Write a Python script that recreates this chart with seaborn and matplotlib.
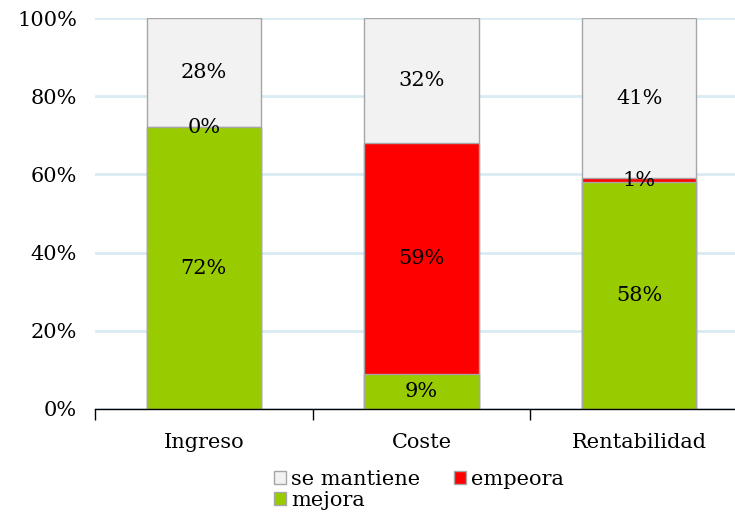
import matplotlib
matplotlib.use("Agg")
import matplotlib.pyplot as plt
import seaborn as sns
import pandas as pd
import numpy as np
from matplotlib.patches import Patch

categories = ["Ingreso", "Coste", "Rentabilidad"]
mejora = [72, 9, 58]
empeora = [0, 59, 1]
se_mantiene = [28, 32, 41]
ytick_labels = ["0%", "20%", "40%", "60%", "80%", "100%"]

c_mejora = "#99cc00"
c_empeora = "#ff0000"
c_mant = "#f2f2f2"
edge = "#a6a6a6"

sns.set_style("white")
plt.rcParams["font.family"] = ["DejaVu Serif"]
plt.rcParams["text.color"] = "black"
plt.rcParams["xtick.color"] = "black"
plt.rcParams["ytick.color"] = "black"
plt.rcParams["xtick.labelcolor"] = "black"
plt.rcParams["ytick.labelcolor"] = "black"

FS = 15

df = pd.DataFrame({"cat": categories, "mejora": mejora, "empeora": empeora, "mant": se_mantiene})
df["lvl2"] = df["mejora"] + df["empeora"]
df["lvl3"] = df["lvl2"] + df["mant"]

fig = plt.figure(figsize=(7.35, 5.13), dpi=100)
ax = fig.add_axes([95/735, 1 - 409/513, 653/735, 391/513])

w = 114 / 217.5
sns.barplot(data=df, x="cat", y="lvl3", color=c_mant, width=w, edgecolor=edge, linewidth=1, ax=ax, saturation=1, zorder=2)
sns.barplot(data=df, x="cat", y="lvl2", color=c_empeora, width=w, edgecolor=edge, linewidth=1, ax=ax, saturation=1, zorder=2)
sns.barplot(data=df, x="cat", y="mejora", color=c_mejora, width=w, edgecolor=edge, linewidth=1, ax=ax, saturation=1, zorder=2)

ax.set_xlim(-0.5, 2.5)
ax.set_ylim(0, 100)
ax.set_yticks(np.arange(0, 101, 20))
ax.set_yticklabels(ytick_labels, fontsize=FS, color="black")
ax.yaxis.grid(True, color="#d8ebf3", linewidth=2, zorder=0)
ax.set_axisbelow(True)
ax.set_xlabel("")
ax.set_ylabel("")
for s in ["left", "right", "top"]:
    ax.spines[s].set_visible(False)
ax.spines["bottom"].set_color("black")
ax.spines["bottom"].set_linewidth(1)
ax.tick_params(axis="y", length=0, pad=13)
ax.tick_params(axis="x", which="major", length=0, pad=17, labelsize=FS, labelcolor="black")
ax.set_xticks([-0.5, 0.5, 1.5, 2.5], minor=True)
ax.tick_params(axis="x", which="minor", bottom=True, length=8, width=1, color="black", direction="out")

for i in range(len(categories)):
    m, e, s = mejora[i], empeora[i], se_mantiene[i]
    ax.text(i, m / 2, f"{m}%", ha="center", va="center", fontsize=FS, color="black", zorder=5)
    ax.text(i, m + e / 2, f"{e}%", ha="center", va="center", fontsize=FS, color="black", zorder=5)
    ax.text(i, m + e + s / 2, f"{s}%", ha="center", va="center", fontsize=FS, color="black", zorder=5)

handles = [Patch(facecolor=c_mant, edgecolor=edge, label="se mantiene"),
           Patch(facecolor=c_mejora, edgecolor=edge, label="mejora"),
           Patch(facecolor=c_empeora, edgecolor=edge, label="empeora")]
fig.legend(handles=handles, ncol=2, loc="center", bbox_to_anchor=(419/735, 1 - 490/513),
           frameon=False, fontsize=FS, handlelength=0.6, handleheight=0.6,
           handletextpad=0.25, columnspacing=1.6, labelspacing=0.1, borderpad=0)

fig.savefig("out.png", dpi=100)
